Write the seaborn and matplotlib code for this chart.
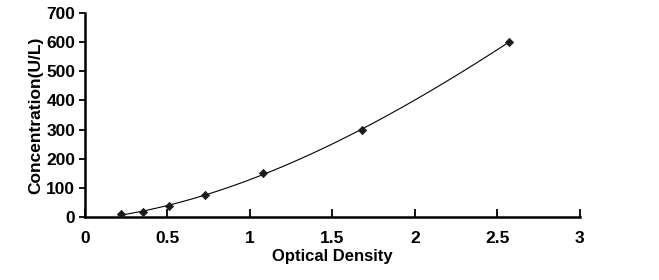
import matplotlib
matplotlib.use("Agg")
import matplotlib.pyplot as plt
import seaborn as sns
import pandas as pd

optical_density = [0.218, 0.35, 0.51, 0.727, 1.08, 1.68, 2.57]
concentration = [9.375, 18.75, 37.5, 75, 150, 300, 600]
x_ticks = [0, 0.5, 1, 1.5, 2, 2.5, 3]
x_tick_labels = ["0", "0.5", "1", "1.5", "2", "2.5", "3"]
y_ticks = [0, 100, 200, 300, 400, 500, 600, 700]

sns.set_theme(style="white")
plt.rcParams['font.family'] = ['Liberation Sans', 'DejaVu Sans']

df = pd.DataFrame({"od": optical_density, "conc": concentration})

fig = plt.figure(figsize=(6.59, 2.8), dpi=100)
ax = fig.add_axes([0.129, 0.225, 0.751, 0.729])

sns.regplot(data=df, x="od", y="conc", order=3, ci=None, scatter=False,
            truncate=True, ax=ax, line_kws=dict(color="black", lw=0.8))
sns.scatterplot(data=df, x="od", y="conc", marker="D", s=18, color="#1a1a1a",
                edgecolor="#1a1a1a", linewidth=0.5, ax=ax, zorder=3)

ax.set_xlim(0, 3)
ax.set_ylim(0, 700)
ax.set_xticks(x_ticks)
ax.set_xticklabels(x_tick_labels)
ax.set_yticks(y_ticks)

for s in ["top", "right"]:
    ax.spines[s].set_visible(False)
for s in ["left", "bottom"]:
    ax.spines[s].set_color("black")
    ax.spines[s].set_linewidth(1.8)

ax.tick_params(axis="x", direction="in", length=6, width=1.3, colors="black",
               labelsize=12.5, pad=10)
ax.tick_params(axis="y", direction="out", length=4, width=1.3, colors="black",
               labelsize=12.5, pad=3)
ax.tick_params(axis="x", bottom=True)
ax.tick_params(axis="y", left=True)
for lab in ax.get_xticklabels() + ax.get_yticklabels():
    lab.set_fontweight("bold")

ax.set_xlabel("Optical Density", fontsize=12, fontweight="bold", labelpad=2, color="black")
ax.set_ylabel("Concentration(U/L)", fontsize=12.5, fontweight="bold", labelpad=2, color="black")

fig.savefig("out.png", dpi=100, facecolor="white")
